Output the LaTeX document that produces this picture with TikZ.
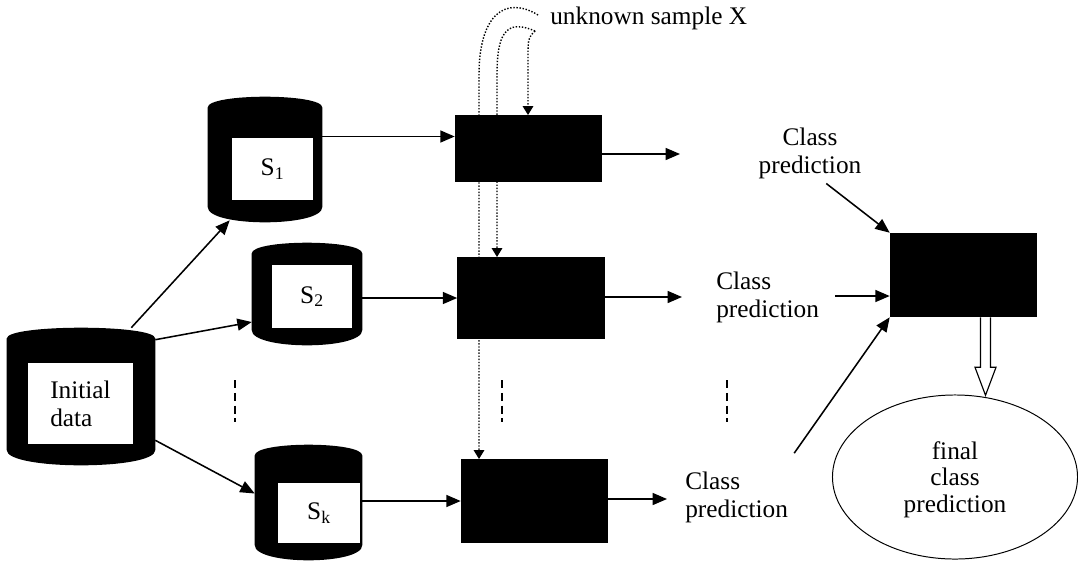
\documentclass[tikz,border=0pt]{standalone}
\usepackage{fontspec}
\setmainfont{Liberation Serif}
\usetikzlibrary{arrows.meta, shapes.geometric}

\begin{document}
\begin{tikzpicture}[x = 0.025cm, y = -0.025cm,
	every node/.style = {font = \fontsize{18}{20}\selectfont},
	arr/.style = {line width = 1.1pt, -{Triangle[length = 0.36cm, width = 0.3cm]}},
	dotarr/.style = {line width = 1pt, dash pattern = on 1pt off 1.2pt, -{Triangle[length = 0.22cm, width = 0.26cm]}},
	blk/.style = {fill = black, inner sep = 0, minimum width = 3.675cm, minimum height = #1},
	inbox/.style = {fill = white, inner sep = 0}]
\useasboundingbox (0,0) rectangle (1078,580);

% data sets
\node[inner sep = 0, minimum width = 3.7cm, minimum height = 3.425cm] (init) at (81,396.5) {};
\node[inner sep = 0, minimum width = 2.85cm, minimum height = 3.125cm] (s1) at (265,159.5) {};
\node[inner sep = 0, minimum width = 2.75cm, minimum height = 2.55cm] (s2) at (307,294) {};
\node[inner sep = 0, minimum width = 2.675cm, minimum height = 2.875cm] (sk) at (308.5,502.5) {};

\foreach \c in {init, s1, s2, sk} {
	\fill ([yshift = -0.27cm]\c.north west) .. controls ([yshift = 0.09cm]\c.north west) and ([yshift = 0.09cm]\c.north east) .. ([yshift = -0.27cm]\c.north east)
		-- ([yshift = 0.38cm]\c.south east) .. controls ([yshift = -0.127cm]\c.south east) and ([yshift = -0.127cm]\c.south west) .. ([yshift = 0.38cm]\c.south west) -- cycle;
}

\node[inbox, minimum width = 2.625cm, minimum height = 2.025cm, align = left] (initbox) at (80.5,403.5) {Initial\\data};
\node[inbox, minimum width = 2.025cm, minimum height = 1.55cm] (s1box) at (272.5,169) {S\textsubscript{1}};
\node[inbox, minimum width = 2cm, minimum height = 1.575cm] (s2box) at (312,296.5) {S\textsubscript{2}};
\node[inbox, minimum width = 2.05cm, minimum height = 1.5cm] (skbox) at (319,513) {S\textsubscript{k}};

% unknown sample
\node[anchor = base west, inner sep = 0] (xs) at (550,24) {unknown sample X};
\coordinate (xa) at (538,15);
\coordinate (xb) at (535,31);
\coordinate (la) at (479,75);
\coordinate (lb) at (497,75);
\coordinate (lc) at (528,60);

\draw[dotarr] (xa) .. controls (505,-5) and (479,15) .. (la) -- (la |- 0,459);
\draw[dotarr] (xb) .. controls (505,18) and (497,35) .. (lb) -- (lb |- 0,257);
\draw[dotarr] (xb) .. controls (528,38) .. (lc) -- (lc |- 0,115);

% classifiers
\node[blk = 1.675cm] (m1) at (528.5,148.5) {};
\node[blk = 2.05cm] (m2) at (531,298) {};
\node[blk = 2.1cm] (mk) at (534.5,501) {};
\node[blk = 2.1cm] (fin) at (963.5,275) {};

\node[draw, ellipse, line width = 0.7pt, minimum width = 6.125cm, minimum height = 4.1cm, align = center,
	font = \fontsize{18}{19}\selectfont, text depth = -0.3cm] (res) at (955,477) {final\\class\\prediction};

\node[align = center] (t1) at (810,153) {Class\\prediction};
\node[align = left, anchor = west, inner sep = 0] (t2) at (716,297) {Class\\prediction};
\node[align = left, anchor = west, inner sep = 0] (tk) at (685,497) {Class\\prediction};

\foreach \x in {235, 502, 727} {
	\draw[line width = 1.5pt, dash pattern = on 0.2cm off 0.12cm] (\x,380) -- (\x,422);
}

% arrows
\draw[arr] ([xshift = -0.6cm]init.north east) -- ([xshift = 0.55cm, yshift = 0.05cm]s1.south west);
\draw[arr] ([yshift = -0.3cm]init.north east) -- ([yshift = -0.7cm]s2.west);
\draw[arr] ([yshift = 0.625cm]init.south east) -- ([yshift = 0.225cm]sk.west);

\coordinate (m1in) at ([yshift = 0.3cm]m1.west);
\draw[arr] (s1.east |- m1in) -- (m1in);
\draw[arr] (s2.east |- m2.west) -- (m2.west);
\draw[arr] (sk.east |- mk.west) -- (mk.west);

\coordinate (c1) at (680,154);
\coordinate (c2) at (682,297);
\coordinate (ck) at (667,499);
\draw[arr] (m1.east |- c1) -- (c1);
\draw[arr] (m2.east |- c2) -- (c2);
\draw[arr] (mk.east |- ck) -- (ck);

\coordinate (fin2) at ([yshift = -0.525cm]fin.west);
\draw[arr] ([xshift = -1cm]t1.south east) -- (fin.north west);
\draw[arr] ([xshift = 0.4cm]t2.east |- fin2) -- (fin2);
\draw[arr] ([xshift = 0.15cm, yshift = 0.45cm]tk.north east) -- (fin.south west);

\draw[line width = 0.8pt, fill = white, shift = {([xshift = 0.55cm]fin.south)}]
	(-5,0) -- (-5,50) -- (-10.5,50) -- (0,78) -- (10.5,50) -- (5,50) -- (5,0);
\end{tikzpicture}
\end{document}
